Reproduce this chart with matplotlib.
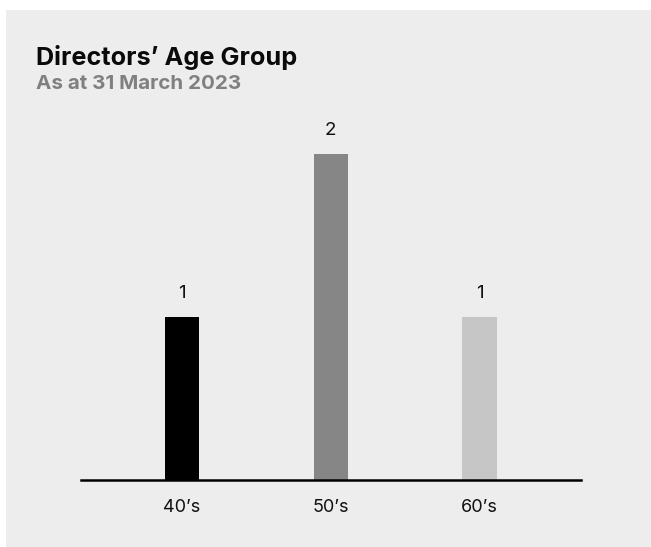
import numpy as np
import matplotlib.pyplot as plt
from matplotlib.patches import Rectangle

# данные: количество директоров по возрастным группам
groups = ['40\u2019s', '50\u2019s', '60\u2019s']
counts = [1, 2, 1]
bar_colors = ['#000000', '#868686', '#c6c6c6']

W, H = 651, 547
fig = plt.figure(figsize=(W / 100, H / 100), dpi=100)
fig.patch.set_facecolor('white')

# серая подложка под весь график
fig.patches.append(Rectangle((6 / W, 0), 1 - 6 / W, 1 - 10 / H,
                             transform=fig.transFigure, facecolor='#ededed',
                             edgecolor='none', zorder=-1))

plt.rcParams['font.family'] = ['Inter', 'DejaVu Sans']

# оси: от базовой линии (y=480px) до y=120px
left, right = 80.7, 581
bottom, top = 480, 120
ax = fig.add_axes([left / W, 1 - bottom / H, (right - left) / W, (bottom - top) / H])
ax.set_facecolor('none')

x = np.arange(len(groups))
ax.bar(x, counts, width=0.232, color=bar_colors, zorder=2)
for xi, c in zip(x, counts):
    ax.annotate(str(c), (xi, c), xytext=(0, 11), textcoords='offset points',
                ha='center', va='bottom', fontsize=13.5, color='#111111')

ax.set_xlim(-0.68, 2.68)
ax.set_ylim(0, (bottom - top) / 163)
ax.set_xticks(x)
ax.set_xticklabels(groups, fontsize=13, color='#111111')
ax.set_yticks([])
ax.tick_params(axis='x', length=0, pad=14)
for s in ['left', 'right', 'top']:
    ax.spines[s].set_visible(False)
ax.spines['bottom'].set_linewidth(1.8)
ax.spines['bottom'].set_color('black')
ax.spines['bottom'].set_zorder(3)

# заголовок и подзаголовок
fig.text(36 / W, 1 - 65 / H, 'Directors\u2019 Age Group', fontsize=18.2,
         fontweight='bold', color='#0a0a0a', va='baseline')
fig.text(36 / W, 1 - 89 / H, 'As at 31 March 2023', fontsize=14.8,
         fontweight='bold', color='#808080', va='baseline')

fig.savefig('out.png', dpi=100)
